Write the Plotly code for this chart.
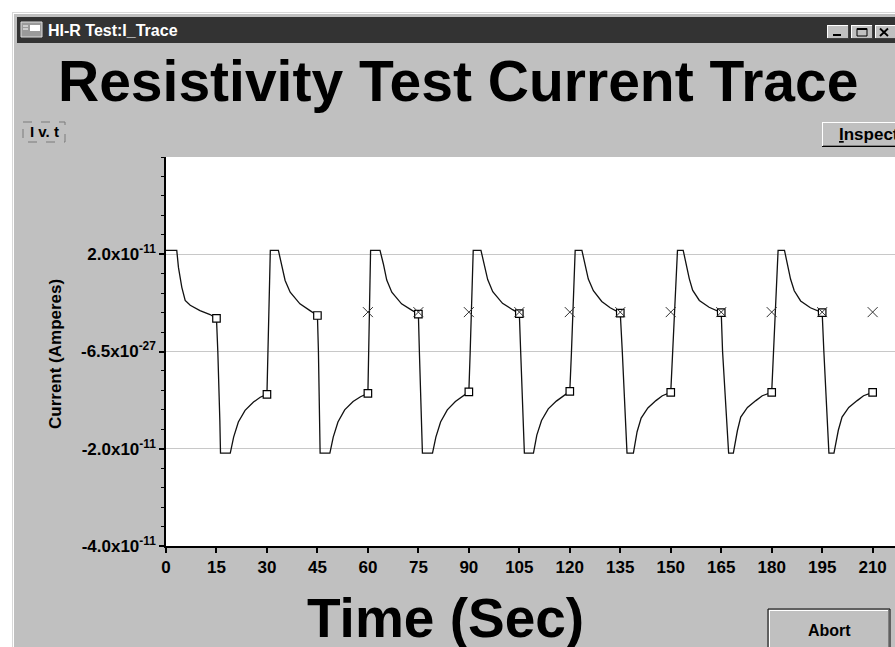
import plotly.graph_objects as go

# ---------------- data ----------------
# time in seconds, current in units of 1e-11 A
time_s = [
    0, 3.2, 3.7, 4.7, 5.7, 7.2, 10.1, 13.1, 15.0, 15.4, 16.0, 16.2, 19.1, 20.1, 21.5, 23.5, 26.0, 28.0, 30.0,
    30.3, 30.8, 31.0, 33.4, 34.4, 35.4, 36.9, 39.8, 42.8, 45.0, 45.3, 45.6, 45.8, 48.7, 49.7, 51.1, 53.1, 55.6, 57.8, 60.0,
    60.3, 60.6, 60.8, 63.6, 64.6, 65.6, 67.1, 70.0, 73.0, 75.0, 75.3, 75.8, 76.2, 79.2, 80.2, 81.6, 83.6, 86.0, 88.0, 90.0,
    90.4, 90.9, 91.3, 93.6, 94.6, 95.6, 97.1, 100.0, 103.0, 105.0, 105.4, 106.0, 106.5, 109.2, 110.2, 111.6, 113.6, 116.0, 118.0, 120.0,
    120.5, 121.1, 121.6, 123.6, 124.5, 125.5, 127.0, 129.5, 132.0, 135.0, 135.6, 136.4, 137.0, 138.9, 140.0, 141.2, 143.2, 145.6, 147.5, 150.0,
    150.6, 151.3, 152.0, 153.7, 154.5, 155.5, 156.5, 158.5, 161.4, 165.0, 165.4, 166.4, 167.2, 168.6, 169.8, 170.8, 172.8, 175.3, 177.2, 180.0,
    180.6, 181.3, 181.9, 183.8, 184.6, 185.6, 186.7, 188.6, 191.5, 195.0, 195.5, 196.3, 197.0, 198.5, 199.8, 200.9, 202.9, 205.4, 207.3, 210.0,
]
current_e11 = [
    2.08, 2.08, 1.73, 1.32, 1.05, 0.95, 0.84, 0.76, 0.68, 0.00, -1.42, -2.09, -2.09, -1.76, -1.45, -1.21, -1.04, -0.94, -0.88,
    -0.12, 1.32, 2.08, 2.08, 1.80, 1.46, 1.22, 0.98, 0.84, 0.74, 0.00, -1.42, -2.09, -2.09, -1.76, -1.45, -1.20, -1.03, -0.93, -0.86,
    0.00, 1.35, 2.08, 2.08, 1.80, 1.47, 1.22, 0.98, 0.85, 0.77, 0.00, -1.42, -2.09, -2.09, -1.76, -1.45, -1.20, -1.03, -0.93, -0.83,
    0.00, 1.30, 2.08, 2.08, 1.80, 1.48, 1.23, 0.99, 0.86, 0.78, 0.00, -1.35, -2.09, -2.09, -1.72, -1.42, -1.18, -1.02, -0.92, -0.82,
    0.00, 1.25, 2.08, 2.08, 1.80, 1.49, 1.25, 1.03, 0.90, 0.79, 0.00, -1.25, -2.09, -2.09, -1.65, -1.37, -1.16, -1.01, -0.91, -0.84,
    0.00, 1.19, 2.08, 2.08, 1.80, 1.50, 1.26, 1.05, 0.91, 0.80, 0.00, -1.21, -2.09, -2.09, -1.63, -1.35, -1.15, -1.01, -0.91, -0.84,
    0.00, 1.20, 2.08, 2.08, 1.79, 1.49, 1.25, 1.04, 0.90, 0.80, 0.00, -1.22, -2.09, -2.09, -1.62, -1.35, -1.15, -1.01, -0.91, -0.84,
]
square_times = [15, 30, 45, 60, 75, 90, 105, 120, 135, 150, 165, 180, 195, 210]
cross_times = [60, 75, 90, 105, 120, 135, 150, 165, 180, 195, 210]
cross_level_e11 = [0.81, 0.81, 0.81, 0.81, 0.81, 0.81, 0.81, 0.81, 0.81, 0.81, 0.81]

x_ticks = [0, 15, 30, 45, 60, 75, 90, 105, 120, 135, 150, 165, 180, 195, 210]
y_tick_vals = [2e-11, 0, -2e-11, -4e-11]
y_tick_text = ["2.0x10<sup>-11</sup>", "-6.5x10<sup>-27</sup>", "-2.0x10<sup>-11</sup>", "-4.0x10<sup>-11</sup>"]

current_a = [v * 1e-11 for v in current_e11]
lookup = dict(zip(time_s, current_a))
square_vals = [lookup[t] for t in square_times]
cross_vals = [v * 1e-11 for v in cross_level_e11]

# ---------------- figure ----------------
W, H = 895, 647
L, T, B, R = 166, 157, 101, 0
PW, PH = W - L - R, H - T - B
FONT = "Liberation Sans, Arial, sans-serif"


def px(x):
    return (x - L) / PW


def py(y):
    return (H - B - y) / PH


fig = go.Figure()
fig.add_trace(go.Scatter(x=time_s, y=current_a, mode="lines",
                         line=dict(color="#111111", width=1.3), hoverinfo="skip"))
fig.add_trace(go.Scatter(x=square_times, y=square_vals, mode="markers",
                         marker=dict(symbol="square", size=7.5, color="white",
                                     line=dict(color="black", width=1.2))))
fig.add_trace(go.Scatter(x=cross_times, y=cross_vals, mode="markers",
                         marker=dict(symbol="x-thin", size=10,
                                     line=dict(color="#333333", width=1))))

shapes = []
annotations = []


def rect(x0, y0, x1, y1, fill=None, line=None, lw=1, dash=None):
    d = dict(type="rect", xref="paper", yref="paper",
             x0=px(x0), x1=px(x1), y0=py(y0), y1=py(y1), layer="above")
    d["fillcolor"] = fill if fill else "rgba(0,0,0,0)"
    if line:
        d["line"] = dict(color=line, width=lw)
        if dash:
            d["line"]["dash"] = dash
    else:
        d["line"] = dict(width=0)
    shapes.append(d)


def seg(x0, y0, x1, y1, color, lw=1):
    shapes.append(dict(type="line", xref="paper", yref="paper",
                       x0=px(x0), x1=px(x1), y0=py(y0), y1=py(y1),
                       line=dict(color=color, width=lw), layer="above"))


def text(x, y, s, size, color="black", xanchor="center", angle=0):
    annotations.append(dict(xref="paper", yref="paper", x=px(x), y=py(y), text=s,
                            showarrow=False, xanchor=xanchor, yanchor="middle",
                            textangle=angle,
                            font=dict(family=FONT, size=size, color=color, weight="bold")))


# outside white strips and window frame
rect(0, 0, W + 5, 12, fill="white")
rect(0, 0, 12, H + 5, fill="white")
seg(12.5, 12, 12.5, H + 5, "#d8d8d8")
seg(12, 12.5, W + 5, 12.5, "#d8d8d8")
seg(13.5, 13, 13.5, H + 5, "#ffffff")
seg(13, 13.5, W + 5, 13.5, "#ffffff")
# title bar
rect(17, 17, W + 5, 43, fill="#333333")
rect(21, 22, 42, 37, fill="#9a9a9a", line="#dddddd", lw=1)
rect(30, 25, 40, 31, fill="#ffffff")
seg(23, 26, 28, 26, "#ffffff", 1)
seg(23, 29, 28, 29, "#ffffff", 1)
text(46, 30.5, "HI-R Test:I_Trace", 16, color="white", xanchor="left")
# caption buttons
for bx0, bx1 in [(827, 849), (851, 873), (875, 897)]:
    rect(bx0, 25, bx1, 39, fill="#c0c0c0")
    seg(bx0, 25.5, bx1, 25.5, "white")
    seg(bx0 + 0.5, 25, bx0 + 0.5, 39, "white")
    seg(bx0, 38.5, bx1, 38.5, "#404040")
    seg(bx1 - 0.5, 25, bx1 - 0.5, 39, "#404040")
seg(833, 35, 841, 35, "black", 2)
rect(857, 28.5, 867, 36, line="black", lw=1)
seg(857, 29, 867, 29, "black", 2)
seg(880, 28.5, 888, 36, "black", 1.8)
seg(880, 36, 888, 28.5, "black", 1.8)

# big title
text(458, 81, "Resistivity Test Current Trace", 57)
# "I v. t" dashed box
rect(23, 122, 65, 142, line="#7a7a7a", lw=1, dash="dash")
text(44, 131.5, "I v. t", 15)
# Inspect button
rect(822, 122, W + 5, 147, fill="#c0c0c0")
seg(822, 122.5, W + 5, 122.5, "white")
seg(822.5, 122, 822.5, 147, "white")
seg(822, 146.5, W + 5, 146.5, "black")
seg(823, 145.5, W + 5, 145.5, "#808080")
text(837, 134, "<u>I</u>nspect", 17, xanchor="left")
# Abort button
rect(768, 609, 890, H + 5, fill="#c0c0c0", line="black", lw=1)
seg(769, 610.5, 889, 610.5, "white")
seg(769.5, 610, 769.5, H + 5, "white")
seg(888.5, 610, 888.5, H + 5, "#808080")
text(829.5, 630, "Abort", 16)

# axis titles
text(445, 618, "Time (Sec)", 55)
text(55, 354, "Current (Amperes)", 17, angle=-90)

fig.update_layout(
    width=W, height=H, autosize=False,
    margin=dict(l=L, r=R, t=T, b=B, pad=0),
    paper_bgcolor="#c0c0c0", plot_bgcolor="white",
    showlegend=False,
    shapes=shapes, annotations=annotations,
    font=dict(family=FONT, color="black"),
)
fig.update_xaxes(
    range=[0, PW / 3.365], tickmode="array", tickvals=x_ticks,
    ticks="outside", ticklen=5, tickwidth=1.5, tickcolor="black",
    showline=True, linecolor="black", linewidth=1.5,
    showgrid=False, zeroline=False, fixedrange=True,
    tickfont=dict(family=FONT, size=17, color="black", weight="bold"),
)
fig.update_yaxes(
    range=[-4e-11, 4e-11], tickmode="array", tickvals=y_tick_vals, ticktext=y_tick_text,
    ticks="outside", ticklen=5, tickwidth=1.5, tickcolor="black",
    minor=dict(tickmode="linear", tick0=-4e-11, dtick=4e-12, ticks="outside",
               ticklen=3, tickwidth=1.2, tickcolor="black", showgrid=False),
    showline=True, linecolor="black", linewidth=1.5,
    showgrid=True, gridcolor="#c8c8c8", gridwidth=1, zeroline=False, fixedrange=True,
    tickfont=dict(family=FONT, size=17, color="black", weight="bold"),
)

fig.write_html("out.html", config={"displayModeBar": False},
               post_script="document.body.style.margin='0';document.body.style.overflow='hidden';")
